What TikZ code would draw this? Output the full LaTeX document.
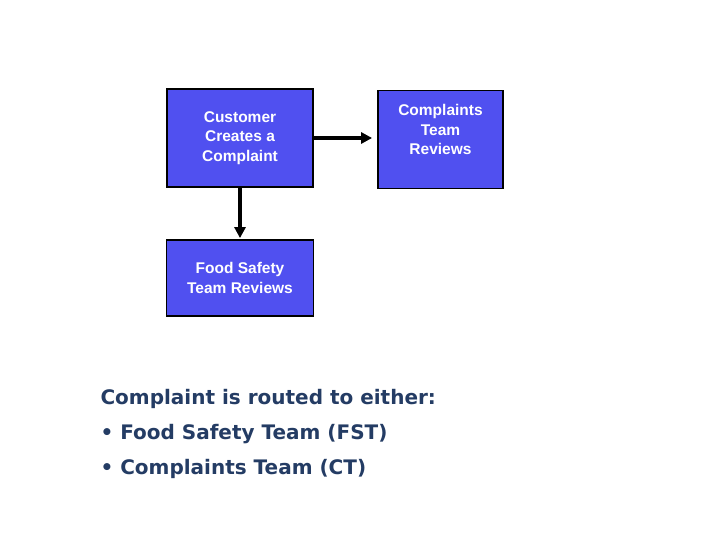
\documentclass[tikz,border=0pt]{standalone}
\usepackage{fontspec}
\setmainfont{Liberation Sans}
\newfontfamily\notefont{DejaVu Sans}
\usetikzlibrary{arrows.meta,positioning}
\definecolor{boxblue}{RGB}{80,80,240}
\definecolor{noteblue}{RGB}{36,60,100}
\tikzset{
stepbox/.style = {draw=black, line width=1.8pt, fill=boxblue,
                  text=white, font=\fontsize{15.5}{19.5}\selectfont\bfseries,
                  align=center, inner sep=0pt},
flow/.style = {line width=3.2pt, -{Triangle[length=11pt,width=11pt]}}
}
\begin{document}
\begin{tikzpicture}[x=1pt,y=-1pt]
  \useasboundingbox (0,0) rectangle (720,540);
  \node[stepbox, minimum width=146pt, minimum height=98pt] (cust) at (240,138) {Customer\\Creates a\\Complaint};
  \node[stepbox, minimum width=125pt, minimum height=98pt] (ct) at (440.5,139.5) {Complaints\\Team\\Reviews\\[0pt]};
  \node[stepbox, minimum width=147pt, minimum height=76pt] (fst) at (240,278) {Food Safety\\Team Reviews};
  % routing
  \draw[flow, shorten >=5pt] (cust.east) -- (cust.east -| ct.west);
  \draw[flow, shorten >=1pt] (cust.south) -- (fst.north);
  \node[anchor=north west, align=left, text=noteblue,
        font=\notefont\bfseries\fontsize{20}{35}\selectfont] (note) at (97,386)
        {Complaint is routed to either:\\
         \textbullet\ Food Safety Team (FST)\\
         \textbullet\ Complaints Team (CT)};
\end{tikzpicture}
\end{document}
